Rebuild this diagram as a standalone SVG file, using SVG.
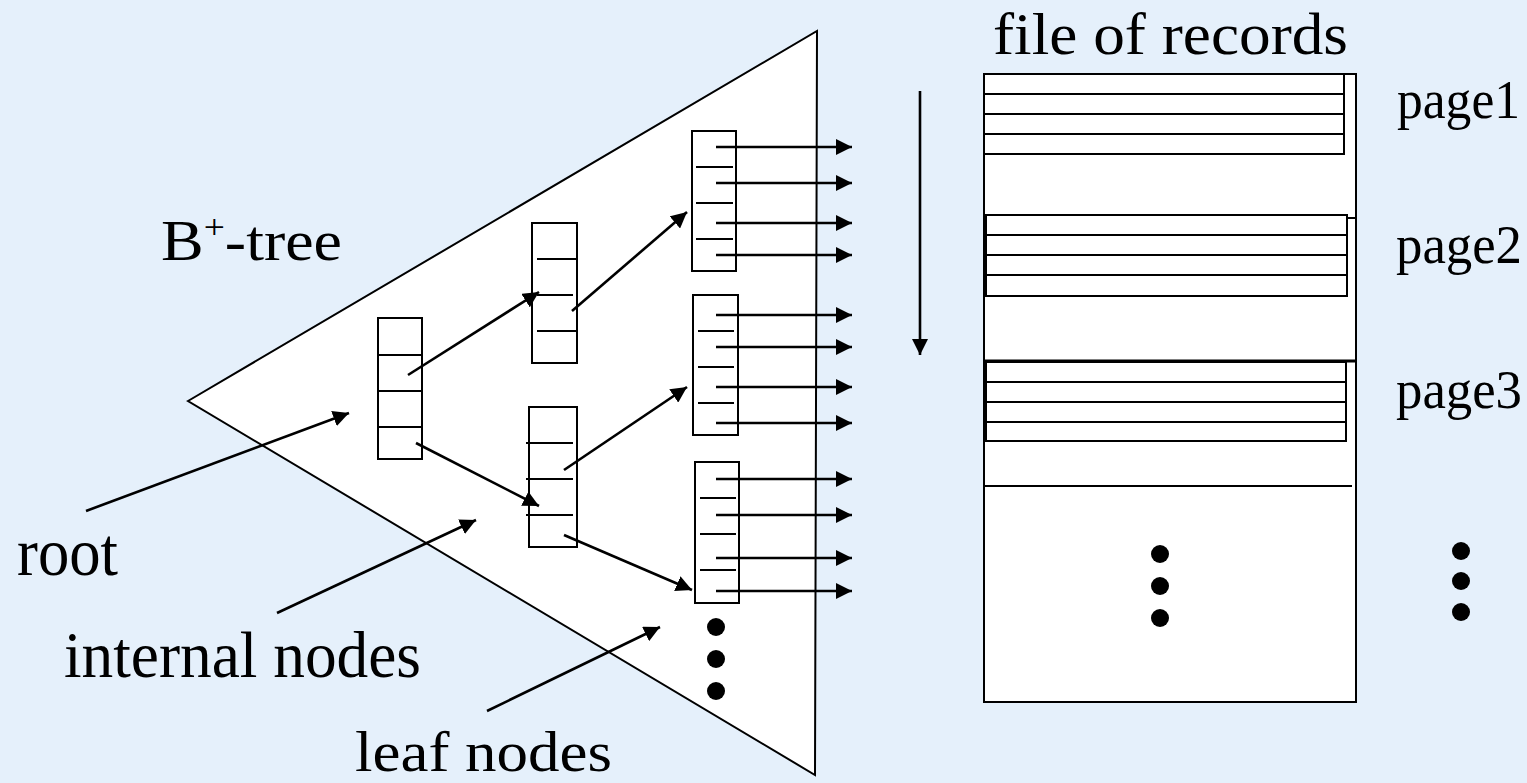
<svg xmlns="http://www.w3.org/2000/svg" width="1527" height="783" viewBox="0 0 1527 783">
<style>
.lbl{font-family:"Liberation Serif","Times New Roman",serif;fill:#000}
.box{fill:#fff;stroke:#000;stroke-width:2}
.div{stroke:#000;stroke-width:2;fill:none}
.arr{stroke:#000;stroke-width:2.6;fill:none;marker-end:url(#ah)}
.rec{fill:#fff;stroke:#000;stroke-width:2}
.dot{fill:#000}
</style>
<defs>
<marker id="ah" markerUnits="userSpaceOnUse" markerWidth="16" markerHeight="16" refX="16" refY="8" orient="auto">
<path d="M0,0 L16,8 L0,16 z" fill="#000"/>
</marker>
</defs>
<rect x="0" y="0" width="1527" height="783" fill="#e5f0fb"/>

<g id="tree">
<polygon points="188,401 817,31 815,775" fill="#fff" stroke="#000" stroke-width="2"/>
</g>

<g id="labels">
<text class="lbl" x="161" y="260" font-size="58" textLength="181" lengthAdjust="spacingAndGlyphs">B<tspan font-size="34" dy="-22">+</tspan><tspan dy="22">-tree</tspan></text>
<text class="lbl" x="17" y="575" font-size="68" textLength="101" lengthAdjust="spacingAndGlyphs">root</text>
<text class="lbl" x="64" y="677" font-size="66" textLength="357" lengthAdjust="spacingAndGlyphs">internal nodes</text>
<text class="lbl" x="355" y="771" font-size="58" textLength="257" lengthAdjust="spacingAndGlyphs">leaf nodes</text>
<text class="lbl" x="993" y="54" font-size="60" textLength="355" lengthAdjust="spacingAndGlyphs">file of records</text>
<text class="lbl" x="1397" y="118" font-size="54" textLength="123" lengthAdjust="spacingAndGlyphs">page1</text>
<text class="lbl" x="1396" y="263" font-size="54" textLength="126" lengthAdjust="spacingAndGlyphs">page2</text>
<text class="lbl" x="1396" y="408" font-size="54" textLength="126" lengthAdjust="spacingAndGlyphs">page3</text>
</g>

<g id="root-node">
<rect class="box" x="378" y="318" width="44" height="141"/>
<path class="div" d="M378,355 H422 M378,391 H422 M378,427 H422"/>
</g>

<g id="internal-node-1">
<rect class="box" x="532" y="223" width="45" height="140"/>
<path class="div" d="M537,259 H577 M537,295 H573 M537,331 H577"/>
</g>

<g id="internal-node-2">
<rect class="box" x="529" y="407" width="48" height="140"/>
<path class="div" d="M526,443 H573 M526,479 H573 M526,515 H573"/>
</g>

<g id="leaf-node-1">
<rect class="box" x="692" y="131" width="44" height="140"/>
<path class="div" d="M696,167 H733 M696,203 H733 M696,239 H733"/>
</g>

<g id="leaf-node-2">
<rect class="box" x="693" y="295" width="45" height="140"/>
<path class="div" d="M698,331 H734 M698,367 H734 M698,403 H734"/>
</g>

<g id="leaf-node-3">
<rect class="box" x="695" y="462" width="44" height="141"/>
<path class="div" d="M700,498 H736 M700,534 H736 M700,570 H736"/>
</g>

<g id="tree-dots">
<circle class="dot" cx="716" cy="627" r="9"/>
<circle class="dot" cx="716" cy="659" r="9"/>
<circle class="dot" cx="716" cy="691" r="9"/>
</g>

<g id="file-of-records">
<rect x="984" y="74" width="372" height="628" fill="#fff" stroke="#000" stroke-width="2"/>
<path class="div" d="M1347,218 H1356"/>
<path d="M984,361 H1356" stroke="#000" stroke-width="3"/>
<path class="div" d="M984,486 H1352"/>
<g id="page1">
<rect class="rec" x="984" y="74" width="360" height="80"/>
<path class="div" d="M984,94 H1344 M984,114 H1344 M984,134 H1344"/>
</g>
<g id="page2">
<rect class="rec" x="986" y="215" width="361" height="81"/>
<path class="div" d="M986,235 H1347 M986,255 H1347 M986,275 H1347"/>
</g>
<g id="page3">
<rect class="rec" x="986" y="362" width="360" height="79"/>
<path class="div" d="M986,382 H1346 M986,402 H1346 M986,422 H1346"/>
</g>
<circle class="dot" cx="1160" cy="554" r="9"/>
<circle class="dot" cx="1160" cy="586" r="9"/>
<circle class="dot" cx="1160" cy="618" r="9"/>
</g>

<g id="page-dots">
<circle class="dot" cx="1461" cy="551" r="9"/>
<circle class="dot" cx="1461" cy="581" r="9"/>
<circle class="dot" cx="1461" cy="612" r="9"/>
</g>

<g id="connectors">
<line class="arr" x1="86" y1="511" x2="349" y2="413"/>
<line class="arr" x1="277" y1="613" x2="476" y2="520"/>
<line class="arr" x1="487" y1="711" x2="660" y2="627"/>
<line class="arr" x1="408" y1="375" x2="539" y2="292"/>
<line class="arr" x1="416" y1="443" x2="539" y2="506"/>
<line class="arr" x1="572" y1="311" x2="687" y2="212"/>
<line class="arr" x1="564" y1="470" x2="687" y2="387"/>
<line class="arr" x1="564" y1="535" x2="692" y2="590"/>
<line class="arr" x1="716" y1="147" x2="852" y2="147"/>
<line class="arr" x1="716" y1="183" x2="852" y2="183"/>
<line class="arr" x1="716" y1="223" x2="852" y2="223"/>
<line class="arr" x1="716" y1="255" x2="852" y2="255"/>
<line class="arr" x1="716" y1="315" x2="852" y2="315"/>
<line class="arr" x1="716" y1="347" x2="852" y2="347"/>
<line class="arr" x1="716" y1="387" x2="852" y2="387"/>
<line class="arr" x1="716" y1="423" x2="852" y2="423"/>
<line class="arr" x1="716" y1="479" x2="852" y2="479"/>
<line class="arr" x1="716" y1="515" x2="852" y2="515"/>
<line class="arr" x1="716" y1="558" x2="852" y2="558"/>
<line class="arr" x1="716" y1="591" x2="852" y2="591"/>
<line class="arr" x1="920" y1="91" x2="920" y2="355"/>
</g>
</svg>
